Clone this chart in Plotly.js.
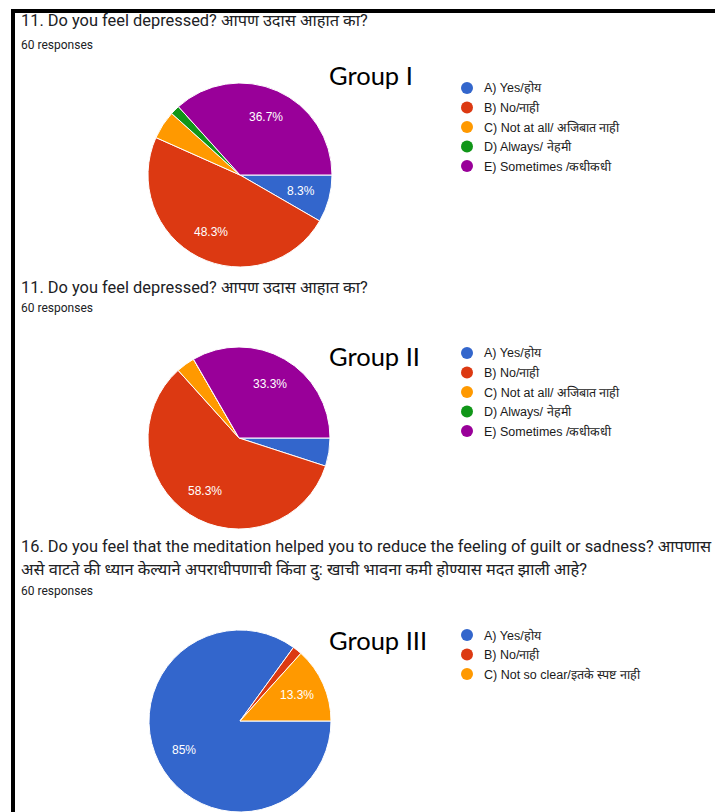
<!DOCTYPE html>
<html>
<head>
<meta charset="utf-8">
<script src="https://cdn.plot.ly/plotly-3.0.1.min.js"></script>
<style>
  html, body { margin: 0; padding: 0; background: #ffffff; }
  #chart { width: 715px; height: 812px; }
</style>
</head>
<body>
<div id="chart"></div>
<script>
// Survey answers (60 responses per question)
const groupNames = ['Group I', 'Group II', 'Group III'];

const questionTitles = [
  '11. Do you feel depressed? आपण उदास आहात का?',
  '11. Do you feel depressed? आपण उदास आहात का?',
  '16. Do you feel that the meditation helped you to reduce the feeling of guilt or sadness? आपणास<br>असे वाटते की ध्यान केल्याने अपराधीपणाची किंवा दु: खाची भावना कमी होण्यास मदत झाली आहे?'
];
const responseCounts = [60, 60, 60];

const labelsDepressed = [
  'A) Yes/होय',
  'B) No/नाही',
  'C) Not at all/ अजिबात नाही',
  'D) Always/ नेहमी',
  'E) Sometimes /कधीकधी'
];
const labelsMeditation = [
  'A) Yes/होय',
  'B) No/नाही',
  'C) Not so clear/इतके स्पष्ट नाही'
];

const valuesGroup1 = [5, 29, 3, 1, 22];
const valuesGroup2 = [3, 35, 2, 0, 20];
const valuesGroup3 = [51, 1, 8];

const sliceColors = ['#3366cc', '#dc3912', '#ff9900', '#109618', '#990099'];

// ---- page geometry (pixels) ----
const W = 715, H = 812;
const pies = [
  { labels: labelsDepressed,  values: valuesGroup1, cx: 240, cy: 175, r: 92, titleY: 21,  respY: 45,  groupY: 75,  legendY: 88 },
  { labels: labelsDepressed,  values: valuesGroup2, cx: 239, cy: 438, r: 91, titleY: 287, respY: 308, groupY: 356, legendY: 353 },
  { labels: labelsMeditation, values: valuesGroup3, cx: 240, cy: 721, r: 91, titleY: 546, respY: 591, groupY: 640, legendY: 635 }
];

const px = x => x / W;
const py = y => 1 - y / H;

const fmtPct = v => {
  const p = Math.round(v * 1000) / 10;
  return (Number.isInteger(p) ? p.toFixed(0) : p.toFixed(1)) + '%';
};

const traces = [];
const annotations = [];
const shapes = [];

pies.forEach((p, i) => {
  const total = p.values.reduce((a, b) => a + b, 0);
  traces.push({
    type: 'pie',
    labels: p.labels,
    values: p.values,
    sort: false,
    direction: 'clockwise',
    rotation: 90,
    marker: { colors: sliceColors.slice(0, p.values.length), line: { color: '#ffffff', width: 1 } },
    textinfo: 'none',
    hoverinfo: 'label+percent',
    showlegend: false,
    domain: {
      x: [px(p.cx - p.r), px(p.cx + p.r)],
      y: [py(p.cy + p.r), py(p.cy - p.r)]
    }
  });

  // percentage labels inside the larger slices, at mid-angle
  let cum = 0;
  p.values.forEach(v => {
    const frac = v / total;
    const mid = cum + frac / 2;
    cum += frac;
    if (frac < 0.07) return;
    const th = 2 * Math.PI * mid;
    const k = 0.69;
    annotations.push({
      xref: 'paper', yref: 'paper',
      x: px(p.cx + k * p.r * Math.cos(th)),
      y: py(p.cy + k * p.r * Math.sin(th)),
      text: fmtPct(frac), showarrow: false,
      xanchor: 'center', yanchor: 'middle',
      font: { family: 'Liberation Sans, Arial, sans-serif', size: 12, color: '#ffffff' }
    });
  });

  // question title (one annotation per line) and response count
  questionTitles[i].split('<br>').forEach((line, n) => {
    annotations.push({
      xref: 'paper', yref: 'paper', x: px(19), y: py(p.titleY + n * 24),
      text: line, showarrow: false, align: 'left',
      xanchor: 'left', yanchor: 'middle',
      font: { family: 'Roboto, "Noto Sans", sans-serif', size: 16.4, color: '#202124' }
    });
  });
  annotations.push({
    xref: 'paper', yref: 'paper', x: px(19), y: py(p.respY),
    text: responseCounts[i] + ' responses', showarrow: false,
    xanchor: 'left', yanchor: 'middle',
    font: { family: 'Roboto, sans-serif', size: 12, color: '#202124' }
  });

  // group heading
  annotations.push({
    xref: 'paper', yref: 'paper', x: px(327), y: py(p.groupY),
    text: groupNames[i], showarrow: false,
    xanchor: 'left', yanchor: 'middle',
    font: { family: 'Lato, "Open Sans", sans-serif', size: 25.5, color: '#000000' }
  });

  // legend: colored dots with labels
  p.labels.forEach((lab, j) => {
    const ly = p.legendY + j * 19.5;
    shapes.push({
      type: 'circle', xref: 'paper', yref: 'paper',
      x0: px(461), x1: px(473), y0: py(ly + 6), y1: py(ly - 6),
      fillcolor: sliceColors[j], line: { width: 0 }
    });
    annotations.push({
      xref: 'paper', yref: 'paper', x: px(482), y: py(ly),
      text: lab, showarrow: false, xanchor: 'left', yanchor: 'middle',
      font: { family: 'Liberation Sans, Arial, sans-serif', size: 12.5, color: '#1a1a1a' }
    });
  });
});

// black frame along the top and left edges
shapes.push({ type: 'line', xref: 'paper', yref: 'paper', x0: px(11), x1: 1, y0: py(11), y1: py(11), line: { color: '#000000', width: 4 } });
shapes.push({ type: 'line', xref: 'paper', yref: 'paper', x0: px(13), x1: px(13), y0: py(9), y1: 0, line: { color: '#000000', width: 4 } });

Plotly.newPlot('chart', traces, {
  width: W, height: H,
  margin: { l: 0, r: 0, t: 0, b: 0 },
  paper_bgcolor: '#ffffff',
  showlegend: false,
  annotations: annotations,
  shapes: shapes
}, { displayModeBar: false, staticPlot: true });
</script>
</body>
</html>
